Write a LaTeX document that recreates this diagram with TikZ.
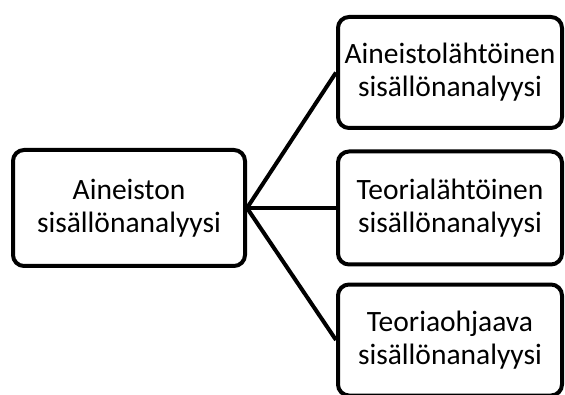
\documentclass[tikz,border=0pt]{standalone}
\usepackage{fontspec}
\setmainfont{Carlito}
\usepackage{tikz}
\usetikzlibrary{positioning}

\begin{document}
\begin{tikzpicture}[x=1pt,y=1pt,
        box/.style={draw, line width=4pt, rounded corners=11pt, align=center,
            inner sep=2pt, font=\fontsize{29.5}{33}\selectfont},
        link/.style={line width=4pt}]
        \useasboundingbox (0,0) rectangle (565,394);
        % Main box
        \node[box, minimum width=232pt, minimum height=116pt] (src) at (129,186)
            {Aineiston\\sisällönanalyysi};
        % Types of analysis
        \node[box, minimum width=224pt, minimum height=111pt] (aineisto) at (450,321.5)
            {Aineistolähtöinen\\sisällönanalyysi};
        \node[box, minimum width=224pt, minimum height=113pt] (teoria) at (450,186)
            {Teorialähtöinen\\sisällönanalyysi};
        \node[box, minimum width=224pt, minimum height=111pt] (ohjaava) at (450,54)
            {Teoriaohjaava\\sisällönanalyysi};
        % Links
        \foreach \t in {aineisto, teoria, ohjaava} {
            \draw[link] (src.east) -- (\t.west);
        }
    \end{tikzpicture}
\end{document}
